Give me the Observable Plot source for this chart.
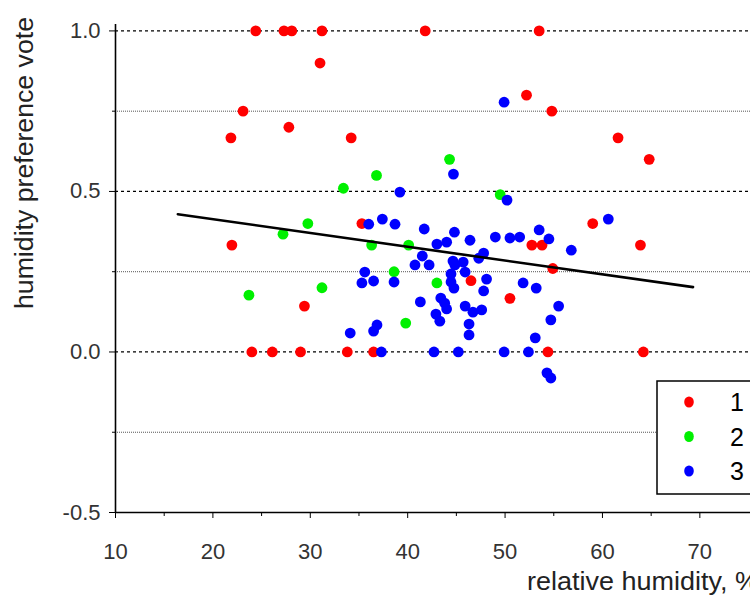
<!DOCTYPE html>
<html>
<head>
<meta charset="utf-8">
<script src="https://cdn.jsdelivr.net/npm/d3@7"></script>
<script src="https://cdn.jsdelivr.net/npm/@observablehq/plot@0.6"></script>
<style>
  html, body { margin: 0; padding: 0; background: #fff; overflow: hidden; }
  #chart svg { display: block; }
</style>
</head>
<body>
<div id="chart"></div>
<script>
// ---- data ----
const groups = ["1", "2", "3"];
const groupColors = ["#ff0000", "#00f000", "#0000ff"];

const humidity1 = [21.85, 23.1, 24.4, 27.3, 28.1, 27.8, 31.0, 31.2, 34.2, 21.95, 24.0, 26.1, 29.0, 29.4, 33.8, 35.3, 36.5, 41.8, 46.5, 50.5, 52.2, 52.75, 53.5, 53.8, 54.4, 54.8, 54.9, 59.0, 61.6, 64.8, 63.9, 64.2];
const vote1     = [0.667, 0.75, 1, 1, 1, 0.7, 0.9, 1, 0.667, 0.333, 0, 0, 0, 0.143, 0, 0.4, 0, 1, 0.222, 0.167, 0.8, 0.333, 1, 0.333, 0, 0.75, 0.26, 0.4, 0.667, 0.6, 0.333, 0];

const humidity2 = [33.4, 36.8, 44.3, 49.5, 29.75, 27.2, 36.3, 40.1, 38.6, 43.0, 23.7, 31.2, 39.8];
const vote2     = [0.51, 0.55, 0.6, 0.49, 0.4, 0.367, 0.333, 0.333, 0.25, 0.215, 0.177, 0.2, 0.09];

const humidity3 = [49.9, 44.7, 39.2, 50.2, 36.0, 37.4, 38.7, 41.7, 44.8, 44.0, 43.0, 46.4, 49.0, 50.5, 51.5, 53.5, 54.5, 56.8, 60.6, 47.8, 47.3, 41.5, 40.75, 42.2, 44.65, 45.7, 44.85, 45.9, 44.45, 35.6, 35.3, 36.5, 38.6, 44.45, 44.75, 48.1, 47.8, 51.85, 53.2, 41.3, 43.4, 43.8, 44.0, 45.9, 46.7, 47.6, 42.9, 43.3, 46.3, 46.3, 36.85, 36.5, 34.1, 55.5, 54.7, 53.1, 37.3, 42.7, 45.2, 49.9, 52.4, 54.3, 54.7];
const vote3     = [0.778, 0.554, 0.498, 0.473, 0.398, 0.414, 0.398, 0.383, 0.373, 0.342, 0.336, 0.348, 0.358, 0.355, 0.358, 0.38, 0.352, 0.317, 0.414, 0.308, 0.292, 0.299, 0.271, 0.271, 0.283, 0.28, 0.271, 0.249, 0.243, 0.249, 0.215, 0.221, 0.218, 0.218, 0.199, 0.227, 0.19, 0.215, 0.199, 0.156, 0.168, 0.152, 0.134, 0.143, 0.124, 0.131, 0.118, 0.096, 0.087, 0.053, 0.084, 0.065, 0.059, 0.143, 0.1, 0.044, 0, 0, 0, 0, 0, -0.065, -0.081];

// linear fit line (end points)
const fitHumidity = [16.4, 69.3];
const fitVote     = [0.429, 0.202];

const majorYTicks = [-0.5, 0, 0.5, 1.0];
const minorYTicks = [-0.25, 0.25, 0.75];
const majorXTicks = [10, 20, 30, 40, 50, 60, 70];
const minorXTicks = [15, 25, 35, 45, 55, 65];

const xTitle = "relative humidity, %";
const yTitle = "humidity preference vote";

// ---- build tables ----
const series = [
  {x: humidity1, y: vote1},
  {x: humidity2, y: vote2},
  {x: humidity3, y: vote3}
];
const points = series.flatMap((s, gi) => s.x.map((x, i) => ({x, y: s.y[i], group: groups[gi]})));
const fit = fitHumidity.map((x, i) => ({x, y: fitVote[i]}));

const font = "'Liberation Sans', Arial, sans-serif";

const chart = Plot.plot({
  width: 750,
  height: 597,
  marginLeft: 115,
  marginRight: 0,
  marginTop: 24,
  marginBottom: 85,
  x: {domain: [10, 75.2]},
  y: {domain: [-0.5, 1.02]},
  color: {domain: groups, range: groupColors},
  style: {fontFamily: font, fontSize: "22px", background: "#fff", color: "#222", overflow: "hidden"},
  marks: [
    Plot.ruleY(minorYTicks, {stroke: "#555", strokeDasharray: "1,1", strokeWidth: 1}),
    Plot.ruleY(majorYTicks.filter(d => d > -0.5), {stroke: "#000", strokeDasharray: "3,3", strokeWidth: 1.3}),
    Plot.axisY(majorYTicks, {tickSize: 6, tickPadding: 9, tickFormat: d => d.toFixed(1), label: null, stroke: "#000", fontSize: 22, fill: "#333"}),
    Plot.axisY(minorYTicks, {tickSize: 3, tickFormat: () => "", label: null, stroke: "#000"}),
    Plot.axisX(majorXTicks, {tickSize: 6, tickPadding: 25, tickFormat: d => String(d), label: null, stroke: "#000", fontSize: 22, fill: "#333"}),
    Plot.axisX(minorXTicks, {tickSize: 4, tickFormat: () => "", label: null, stroke: "#000"}),
    Plot.ruleX([10], {y1: -0.5, y2: 1.02, stroke: "#000", strokeWidth: 1.6}),
    Plot.ruleY([-0.5], {stroke: "#000", strokeWidth: 1.6}),
    Plot.dot(points, {x: "x", y: "y", fill: "group", r: 5.4}),
    Plot.line(fit, {x: "x", y: "y", stroke: "#000", strokeWidth: 2.6})
  ]
});

document.getElementById("chart").appendChild(chart);

// ---- titles and legend ----
const svg = d3.select(chart);
svg.append("text")
  .attr("transform", "translate(24,163) rotate(-90)")
  .attr("text-anchor", "middle")
  .attr("dominant-baseline", "central")
  .style("font-family", font)
  .style("font-size", "25px")
  .attr("textLength", 292)
  .attr("lengthAdjust", "spacingAndGlyphs")
  .attr("fill", "#222")
  .text(yTitle);
svg.append("text")
  .attr("x", 527)
  .attr("y", 590)
  .attr("text-anchor", "start")
  .style("font-family", font)
  .style("font-size", "25px")
  .attr("textLength", 232)
  .attr("lengthAdjust", "spacingAndGlyphs")
  .attr("fill", "#222")
  .text(xTitle);

const lg = svg.append("g");
lg.append("rect")
  .attr("x", 657).attr("y", 381).attr("width", 110).attr("height", 113)
  .attr("fill", "#fff").attr("stroke", "#000").attr("stroke-width", 1.5);
groups.forEach((g, i) => {
  const cy = 402 + i * 34.5;
  lg.append("ellipse").attr("cx", 689).attr("cy", cy).attr("rx", 4.8).attr("ry", 5.6).attr("fill", groupColors[i]);
  lg.append("text").attr("x", 737).attr("y", cy).attr("text-anchor", "middle")
    .attr("dominant-baseline", "central")
    .style("font-family", font).style("font-size", "25px")
    .attr("fill", "#000").text(g);
});
</script>
</body>
</html>
